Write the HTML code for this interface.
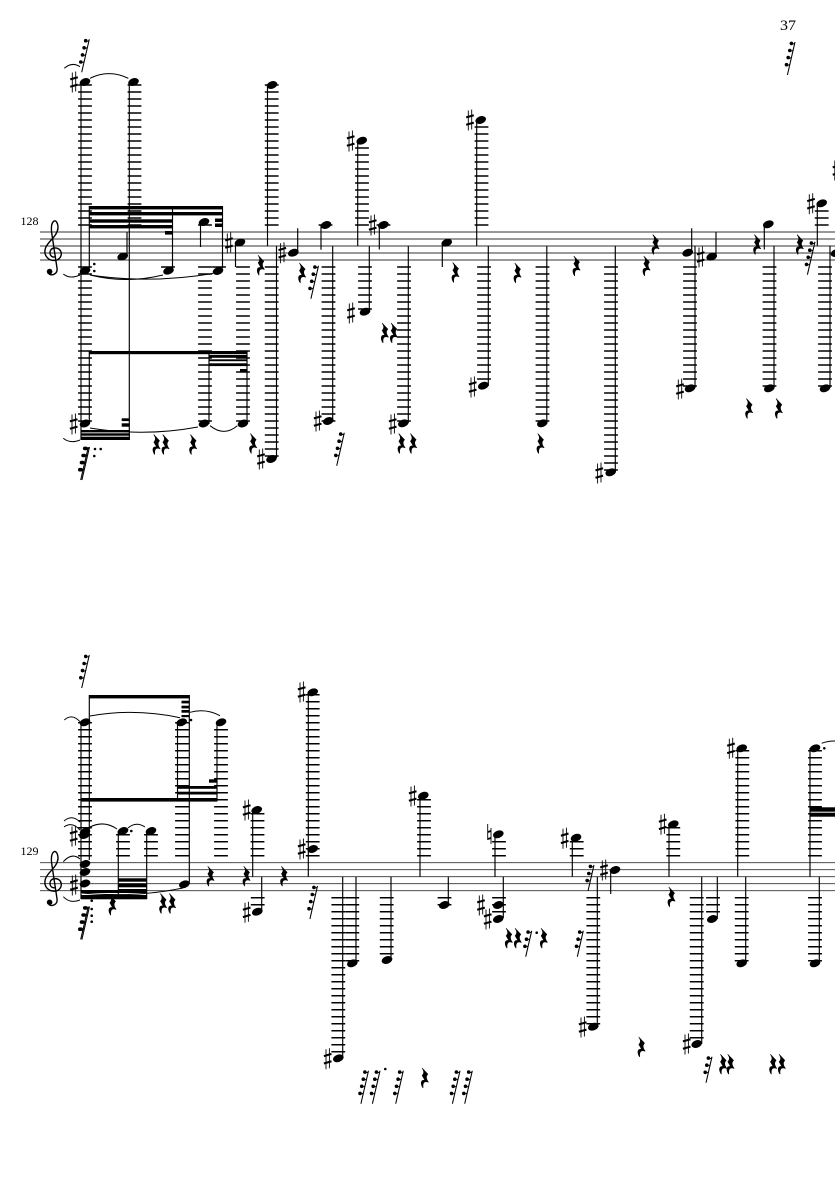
<!DOCTYPE html>
<html><head><meta charset="utf-8"><title>Score page 37</title>
<style>
html,body{margin:0;padding:0;background:#fff}
svg{display:block}
.s{stroke:#333;stroke-width:.95;fill:none}
.st{stroke:#000;stroke-width:1.15;fill:none}
.l{stroke:#000;stroke-width:13.8;stroke-dasharray:1.5 5.5;fill:none}
.t{stroke:#000;stroke-width:1;fill:none}
text{font-family:"Liberation Serif",serif;fill:#000}
</style></head><body>
<svg xmlns="http://www.w3.org/2000/svg" width="835" height="1181" viewBox="0 0 835 1181">
<defs>
<ellipse id="n" rx="5.5" ry="3.7" transform="rotate(-20)" fill="#000"/>
<g id="sh"><path d="M-1.7-9.5V10.5M1.7-10.5V9.5" stroke="#000" stroke-width=".9" fill="none"/><path d="M-3.8-2.6L3.8-4.8M-3.8 4.8L3.8 2.6" stroke="#000" stroke-width="2.1" fill="none"/></g>
<path id="q" fill="#000" d="M-2.8-10L3.2-3.6C1.4-1.8.8.4 3.8 4.4L3.2 4.8C.6 3.6-2.4 4-1.6 10L-2.2 10.4C-5 6.6-4.8 1.8-.6 2.2L-3.2-2.2C-1.6-4-.6-5.8-3.2-9.6Z"/>
<g id="r4"><path d="M0 0L-7.6 33" stroke="#000" stroke-width="1.05" fill="none"/><path d="M-3.6 1.4Q-1.8 2.8-.2 1M-5.2 8.5Q-3.4 9.9-1.8 7.9M-6.8 15.6Q-5 17-3.4 15M-8.5 22.7Q-6.6 24.1-5 22" stroke="#000" stroke-width=".9" fill="none"/><circle cx="-3.6" cy="1.4" r="1.8"/><circle cx="-5.2" cy="8.5" r="1.8"/><circle cx="-6.8" cy="15.6" r="1.8"/><circle cx="-8.5" cy="22.7" r="1.8"/></g>
<g id="r3"><path d="M0 0L-6 26" stroke="#000" stroke-width="1.05" fill="none"/><path d="M-3.6 1.4Q-1.8 2.8-.2 1M-5.2 8.5Q-3.4 9.9-1.8 7.9M-6.8 15.6Q-5 17-3.4 15" stroke="#000" stroke-width=".9" fill="none"/><circle cx="-3.6" cy="1.4" r="1.8"/><circle cx="-5.2" cy="8.5" r="1.8"/><circle cx="-6.8" cy="15.6" r="1.8"/></g>
<g id="cl"><path d="M1 4C-5 5-6-4 0-5C8-6 10 4 3 7C-5 9-11 3-8.5-5C-6-12 3-16 4-25C4-30 2-33 0-32C-3-30-3-24-2-18L3 15C4 21-2 23-5 21" fill="none" stroke="#000" stroke-width="1.4"/><circle cx="-4.4" cy="18.6" r="2.8"/></g>
</defs>
<rect width="835" height="1181" fill="#fff"/>

<text x="780" y="30" font-size="15" textLength="16" lengthAdjust="spacingAndGlyphs">37</text>
<text x="20.5" y="225" font-size="11.5" textLength="18" lengthAdjust="spacingAndGlyphs">128</text>
<text x="20.5" y="855" font-size="11.5" textLength="18" lengthAdjust="spacingAndGlyphs">129</text>

<!-- staves -->
<path class="s" d="M40 232H835M40 239H835M40 246H835M40 253H835M40 260H835"/>
<path class="s" d="M40 862.7H835M40 869.7H835M40 876.7H835M40 883.7H835M40 890.7H835"/>
<use href="#cl" x="54" y="253"/>
<use href="#cl" x="54" y="883.7"/>

<!-- ledger stacks, system 1 -->
<path class="l" d="M85 84.25V225.75M134.5 84.25V225.75M271.7 84.25V225.75M362 147.25V225.75M481.5 126.25V225.75M325.5 224.25V225.75M383.5 224.25V225.75M205 224.25V225.75M821.7 210.25V225.75"/>
<path class="l" d="M85 266.25V421.75M168 266.25V267.75M205 266.25V421.75M219 266.25V267.75M243 266.25V421.75M271.7 266.25V456.75M328.5 266.25V421.75M365 266.25V309.75M404 266.25V421.75M484 266.25V379.75M542.5 266.25V421.75M611 266.25V470.75M690 266.25V386.75M769.5 266.25V386.75M825 266.25V386.75"/>

<!-- ledger stacks, system 2 -->
<path class="l" d="M85 721.95V856.45M182 721.95V856.45M221 728.95V856.45M123 833.95V856.45M151 833.95V856.45M257.5 812.95V856.45M312.7 693.95V856.45M424 798.95V856.45M499 840.95V856.45M576.7 840.95V856.45M673.3 826.95V856.45M742.3 749.95V856.45M815 749.95V856.45"/>
<path class="l" d="M257.7 896.95V905.45M338.3 896.95V1052.45M352.3 896.95V961.45M386.7 896.95V954.45M444.5 896.95V905.45M499 896.95V912.45M593.3 896.95V1024.45M696.7 896.95V1038.45M713 896.95V912.45M741.7 896.95V961.45M815 896.95V961.45"/>

<!-- stems system 1 -->
<path class="st" d="M81 82V440M89.3 206V268M89.3 351V424M129.3 82V438M127 232V256M172.5 206V268M200.5 222V247M222.5 206V268M209 351V424M247 351V424M235.5 243V267M267.5 85V246M276.5 246V458M297.7 228.3V252M321 225V249.7M332.7 246V421M357.7 141V246M379.3 225V249.5M369.3 246V312M408.3 246V423M442.3 243V267M476.7 120V246M488.3 246V386M546.8 246V423M615.3 246V472M691.7 228.3V252M695 246V388M716 232V256M764.3 224V249.5M774 246V388M817.3 203V246M830 246V388"/>

<!-- stems system 2 -->
<path class="st" d="M81 722V899M89.3 695V860M189.3 695V884M177.5 722V801M217 722V801M118.3 831V897M146.7 831V899M252.7 810V876.7M261.7 876.7V911M308.3 692V876.7M342.7 876.7V1058M356 876.7V963M391 876.7V960M420 796V876.7M448.3 876.7V905M495 834V876.7M503.3 876.7V918M572.3 838V876.7M597.3 876.7V1027M610.7 870V894M669 824V876.7M701.7 876.7V1044M717.3 876.7V919M737.7 748V876.7M745.7 876.7V963M810 748V876.7M819.3 876.7V963"/>

<!-- beams -->
<g fill="#000">
<rect x="89" y="206" width="133.8" height="3.4"/><rect x="89" y="212" width="133.8" height="3.4"/>
<rect x="89" y="219.3" width="83.8" height="3.4"/><rect x="89" y="225" width="83.8" height="3.4"/>
<rect x="165" y="231" width="7.8" height="3.6"/>
<rect x="215" y="218.5" width="7.8" height="3.5"/><rect x="215" y="223.5" width="7.8" height="3.5"/>
<rect x="81" y="430" width="49" height="2.4"/><rect x="81" y="433.3" width="49" height="2.4"/><rect x="81" y="436.7" width="49" height="3.3"/>
<rect x="121.7" y="418.3" width="8" height="2.8"/><rect x="121.7" y="423.3" width="8" height="3.4"/>
<rect x="89" y="351" width="158.4" height="3.2"/>
<rect x="209" y="355" width="38.4" height="2.8"/><rect x="209" y="359.3" width="38.4" height="1.9"/><rect x="209" y="363.3" width="38.4" height="2.8"/>
<rect x="240" y="369" width="7.4" height="3"/>

<rect x="89" y="695" width="100.7" height="3.4"/>
<rect x="181.5" y="700.7" width="8" height="2.7"/><rect x="181.5" y="705.7" width="8" height="2.7"/><rect x="181.5" y="710" width="8" height="2.7"/><rect x="181.5" y="715" width="8" height="2.2"/>
<rect x="81" y="798" width="136.4" height="3.6"/>
<rect x="177.5" y="786" width="39.9" height="2.8"/><rect x="177.5" y="791.7" width="39.9" height="2.8"/>
<rect x="209" y="779.3" width="8" height="3.4"/>
<rect x="81" y="890" width="66" height="3"/><rect x="81" y="895" width="66" height="4.3"/>
<rect x="118.3" y="878.3" width="28.7" height="3.4"/><rect x="118.3" y="883.3" width="28.7" height="4"/><rect x="118.3" y="889" width="28.7" height="4"/>
<rect x="810" y="807.3" width="25" height="4.4"/><rect x="810" y="812.7" width="25" height="4"/>
</g>

<!-- ties -->
<path class="t" d="M90 78.3Q109 69 128.3 78.3M64.3 68.3Q72 61.5 80 66.7M63.3 274Q70 279.5 80 275M90 275Q126 284 163 275M90 275Q150 284 213 273.5M90 428Q144 437 198 427M210 425.7Q224 437 237.3 425.7M63.3 438.3Q70 444 80 440"/>
<path class="t" d="M90 716Q135 708 180 717.7M190 712.3Q206 708 220 715.7M64.3 720Q72 713 80 721.7M64 821Q72 814 80 822M64 827Q72 821 80 830M90 827Q104 820 117 829M128 828Q136 821 145 827M63.3 861.7Q72 852 80 859M63.3 896.7Q70 904 80 900M82 893Q135 898 183 888M821.7 743.3Q827 741 835 741"/>

<!-- noteheads system 1 -->
<use href="#n" x="85" y="82"/><use href="#n" x="133.5" y="82"/><use href="#n" x="85" y="270.7"/><use href="#n" x="122.7" y="256.5"/><use href="#n" x="168.5" y="270.7"/><use href="#n" x="204" y="222"/><use href="#n" x="218" y="271"/><use href="#n" x="85" y="423.5"/><use href="#n" x="204" y="423.5"/><use href="#n" x="243" y="423.5"/><use href="#n" x="240" y="242.5"/><use href="#n" x="272" y="85"/><use href="#n" x="271.5" y="459"/><use href="#n" x="293.3" y="252.7"/><use href="#n" x="326" y="225"/><use href="#n" x="328.3" y="421"/><use href="#n" x="361.7" y="140.7"/><use href="#n" x="383.3" y="225"/><use href="#n" x="365" y="311.7"/><use href="#n" x="403.3" y="423.3"/><use href="#n" x="446.7" y="242.7"/><use href="#n" x="480.7" y="120"/><use href="#n" x="483.3" y="385.7"/><use href="#n" x="542.3" y="423.3"/><use href="#n" x="610.7" y="472.3"/><use href="#n" x="687.7" y="252.7"/><use href="#n" x="690" y="388.3"/><use href="#n" x="711.7" y="256.7"/><use href="#n" x="768.3" y="224.3"/><use href="#n" x="769.3" y="388.3"/><use href="#n" x="821.7" y="203.3"/><use href="#n" x="825" y="388.3"/><use href="#n" x="836" y="253"/>

<!-- noteheads system 2 -->
<use href="#n" x="85" y="722.3"/><use href="#n" x="181.7" y="722.3"/><use href="#n" x="221" y="722.3"/><use href="#n" x="85" y="832"/><use href="#n" x="84.5" y="835"/><use href="#n" x="123" y="831"/><use href="#n" x="151" y="831"/><use href="#n" x="85" y="864"/><use href="#n" x="85" y="872"/><use href="#n" x="85" y="883.5"/><use href="#n" x="184.3" y="884.3"/><use href="#n" x="256.7" y="810"/><use href="#n" x="257.3" y="911.7"/><use href="#n" x="312.7" y="692.3"/><use href="#n" x="312.7" y="849"/><use href="#n" x="338.3" y="1058.3"/><use href="#n" x="352.3" y="963.3"/><use href="#n" x="387" y="960"/><use href="#n" x="423.3" y="795.7"/><use href="#n" x="444.3" y="905"/><use href="#n" x="498.3" y="834.3"/><use href="#n" x="498.3" y="905"/><use href="#n" x="498.3" y="919"/><use href="#n" x="576" y="837.7"/><use href="#n" x="593.3" y="1026.7"/><use href="#n" x="615" y="870"/><use href="#n" x="673.3" y="824.3"/><use href="#n" x="696.7" y="1044"/><use href="#n" x="712.3" y="919"/><use href="#n" x="741.7" y="748.3"/><use href="#n" x="741.7" y="963.3"/><use href="#n" x="815" y="748.3"/><use href="#n" x="815" y="963.3"/>

<!-- sharps -->
<use href="#sh" x="74" y="82"/><use href="#sh" x="73.7" y="424"/><use href="#sh" x="229" y="243"/><use href="#sh" x="261" y="459"/><use href="#sh" x="282.3" y="252.7"/><use href="#sh" x="317.7" y="421"/><use href="#sh" x="350.7" y="141"/><use href="#sh" x="372.7" y="225"/><use href="#sh" x="351" y="313"/><use href="#sh" x="392.7" y="424"/><use href="#sh" x="470" y="120"/><use href="#sh" x="472.7" y="387"/><use href="#sh" x="599.3" y="473"/><use href="#sh" x="680" y="389"/><use href="#sh" x="700.7" y="257"/><use href="#sh" x="811" y="203.7"/><use href="#sh" x="836.5" y="170"/>
<use href="#sh" x="73.7" y="836"/><use href="#sh" x="74" y="885"/><use href="#sh" x="246.7" y="810"/><use href="#sh" x="246.7" y="912.3"/><use href="#sh" x="301.7" y="692"/><use href="#sh" x="301.7" y="849"/><use href="#sh" x="327.7" y="1058.7"/><use href="#sh" x="412.7" y="796"/><use href="#sh" x="481" y="905"/><use href="#sh" x="487.7" y="919"/><use href="#sh" x="564.7" y="838.3"/><use href="#sh" x="582.7" y="1027"/><use href="#sh" x="604" y="870"/><use href="#sh" x="662.7" y="824.3"/><use href="#sh" x="686.7" y="1044"/><use href="#sh" x="731" y="748.3"/>

<!-- natural -->
<path d="M487.7 824V840M491 828V844" stroke="#000" stroke-width=".9" fill="none"/><path d="M487.7 832L491 831M487.7 839L491 838" stroke="#000" stroke-width="1.8" fill="none"/>

<!-- quarter rests -->
<use href="#q" x="261" y="265"/><use href="#q" x="302.3" y="272.7"/><use href="#q" x="385" y="332.7"/><use href="#q" x="394" y="332.7"/><use href="#q" x="401.7" y="443.3"/><use href="#q" x="413.3" y="443.3"/><use href="#q" x="455.7" y="272.3"/><use href="#q" x="517.7" y="272.7"/><use href="#q" x="576.7" y="265.7"/><use href="#q" x="646.7" y="265.7"/><use href="#q" x="655.7" y="244.3"/><use href="#q" x="540.7" y="443.3"/><use href="#q" x="757.3" y="244.3"/><use href="#q" x="800" y="244.3"/><use href="#q" x="749.3" y="408.3"/><use href="#q" x="779" y="408.3"/><use href="#q" x="156.7" y="444.3"/><use href="#q" x="165.7" y="444.3"/><use href="#q" x="193.3" y="444.3"/><use href="#q" x="253.3" y="443.3"/>
<use href="#q" x="112.7" y="905"/><use href="#q" x="163.3" y="903.3"/><use href="#q" x="172.3" y="903.3"/><use href="#q" x="210.7" y="876"/><use href="#q" x="246.7" y="876"/><use href="#q" x="284.3" y="876"/><use href="#q" x="425" y="1077.7"/><use href="#q" x="509" y="938"/><use href="#q" x="518" y="938"/><use href="#q" x="544" y="938"/><use href="#q" x="641.7" y="1046.7"/><use href="#q" x="671.7" y="896.7"/><use href="#q" x="723.3" y="1064"/><use href="#q" x="730.7" y="1064"/><use href="#q" x="773.3" y="1064"/><use href="#q" x="782" y="1064"/>

<!-- short rests -->
<use href="#r4" x="89.3" y="39.3"/><use href="#r4" x="795" y="42"/><use href="#r4" x="89.5" y="447"/><use href="#r4" x="88.3" y="447"/><use href="#r4" x="318.5" y="265.7"/><use href="#r4" x="344.3" y="432.7"/><use href="#r4" x="815" y="241.7"/>
<use href="#r4" x="89.3" y="655"/><use href="#r4" x="89.5" y="906.5"/><use href="#r4" x="88.3" y="906.5"/><use href="#r4" x="317.5" y="886"/><use href="#r4" x="368.5" y="1070.7"/><use href="#r4" x="380" y="1070.7"/><use href="#r4" x="403.3" y="1070.7"/><use href="#r4" x="460" y="1070.7"/><use href="#r4" x="472.3" y="1070.7"/>
<use href="#r3" x="531.7" y="930.7"/><use href="#r3" x="583.3" y="930.7"/><use href="#r3" x="594" y="865"/><use href="#r3" x="712" y="1056.7"/>

<!-- dots -->
<g fill="#000"><circle cx="94.3" cy="264" r="1.3"/><circle cx="94.3" cy="271" r="1.3"/><circle cx="95" cy="449" r="1.3"/><circle cx="100.7" cy="449" r="1.3"/><circle cx="94.3" cy="456" r="1.3"/><circle cx="191" cy="720" r="1.3"/><circle cx="131.3" cy="831" r="1.3"/><circle cx="91.7" cy="900.7" r="1.3"/><circle cx="91.7" cy="909" r="1.3"/><circle cx="91.7" cy="915.7" r="1.3"/><circle cx="91.7" cy="921.7" r="1.3"/><circle cx="385.3" cy="1069" r="1.3"/><circle cx="536.7" cy="932.7" r="1.3"/><circle cx="824.3" cy="748.3" r="1.3"/></g>
</svg>
</body></html>
